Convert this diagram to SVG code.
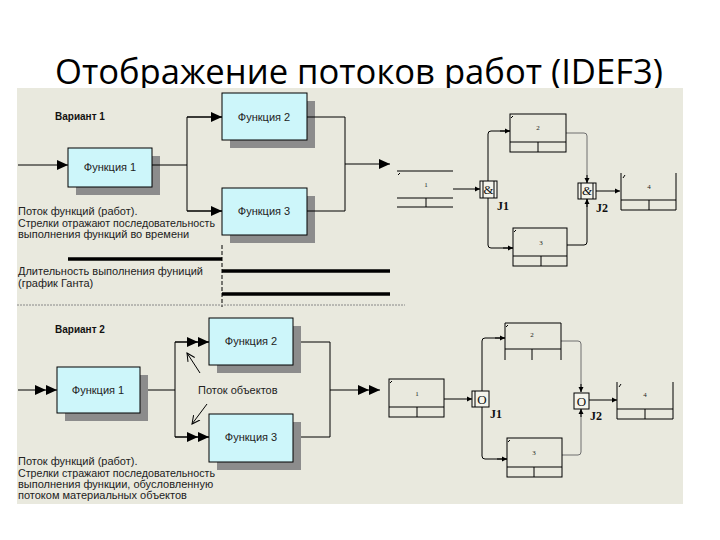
<svg xmlns="http://www.w3.org/2000/svg" width="720" height="540" viewBox="0 0 720 540">
<style>
.title{font-family:"Open Sans","Noto Sans",sans-serif;font-size:35px;fill:#000}
.t{font-family:"Liberation Sans",Arial,sans-serif;font-size:11px;fill:#222}
.b{font-family:"Liberation Sans",Arial,sans-serif;font-size:10px;font-weight:bold;fill:#111}
.fn{font-family:"Liberation Sans",Arial,sans-serif;font-size:11px;fill:#222;text-anchor:middle}
.n{font-family:"Liberation Serif",serif;font-size:7px;fill:#222;text-anchor:middle}
.j{font-family:"Liberation Serif",serif;font-size:12px;font-weight:bold;fill:#111}
.jt{font-family:"Liberation Serif",serif;font-size:13px;fill:#111;text-anchor:middle}
.box{fill:#cdf6fa;stroke:#000;stroke-width:1}
.sh{fill:#8c8c8c}
.ln{fill:none;stroke:#000;stroke-width:1}
.gl{fill:none;stroke:#6f6f6f;stroke-width:1}
.gantt{stroke:#000;stroke-width:3.5}
.ib{fill:#f4f4ec;stroke:#000;stroke-width:1}
</style>
<defs>
<marker id="a" markerWidth="12" markerHeight="10" refX="11" refY="5" orient="auto" markerUnits="userSpaceOnUse"><path d="M0,0 L11,5 L0,10 Z" fill="#000"/></marker>
<marker id="d" markerWidth="24" markerHeight="10" refX="22" refY="5" orient="auto" markerUnits="userSpaceOnUse"><path d="M0,0 L11,5 L0,10 Z M11,0 L22,5 L11,10 Z" fill="#000"/></marker>
<marker id="s" markerWidth="6" markerHeight="6" refX="5" refY="3" orient="auto" markerUnits="userSpaceOnUse"><path d="M0,0.5 L5,3 L0,5.5 Z" fill="#000"/></marker>
<marker id="o" markerWidth="10" markerHeight="10" refX="8" refY="5" orient="auto" markerUnits="userSpaceOnUse"><path d="M0,1 L8,5 L0,9" fill="none" stroke="#000" stroke-width="1"/></marker>
</defs>
<rect width="720" height="540" fill="#fff"/>
<text class="title" x="359" y="84" text-anchor="middle" textLength="608" lengthAdjust="spacingAndGlyphs">Отображение потоков работ (IDEF3)</text>
<rect x="17" y="88" width="666" height="416" fill="#e9e9de"/>

<g id="variant1">
<text class="b" x="55" y="120">Вариант 1</text>
</g>
<g id="v1-f1"><rect class="sh" x="76" y="156" width="84" height="39"/><rect class="box" x="68" y="148" width="84" height="39"/><text class="fn" x="110" y="171">Функция 1</text></g>
<g id="v1-f2"><rect class="sh" x="230" y="101" width="85" height="47"/><rect class="box" x="222" y="93" width="85" height="47"/><text class="fn" x="264" y="121">Функция 2</text></g>
<g id="v1-f3"><rect class="sh" x="230" y="196" width="85" height="47"/><rect class="box" x="222" y="188" width="85" height="47"/><text class="fn" x="264" y="215">Функция 3</text></g>
<g id="v1-note">
<text class="t" x="18" y="215">Поток функций (работ).</text>
<text class="t" x="18" y="227" textLength="197" lengthAdjust="spacingAndGlyphs">Стрелки отражают последовательность</text>
<text class="t" x="18" y="238">выполнения функций во времени</text>
</g>
<g id="gantt">
<text class="t" x="18" y="275">Длительность выполнения фуниций</text>
<text class="t" x="18" y="287">(график Ганта)</text>
<line class="gantt" x1="68" y1="259" x2="222" y2="259"/>
<line class="gantt" x1="222" y1="271" x2="390" y2="271"/>
<line class="gantt" x1="222" y1="294" x2="390" y2="294"/>
<line x1="222" y1="245" x2="222" y2="307" stroke="#000" stroke-width="1" stroke-dasharray="4,2"/>
<line x1="17" y1="305" x2="405" y2="305" stroke="#888" stroke-width="1" stroke-dasharray="2,1"/>
</g>

<g id="connectors">
<line class="ln" x1="18" y1="165" x2="68" y2="165" marker-end="url(#a)"/>
<polyline class="ln" points="152,165 187,165"/>
<polyline class="ln" points="222,117 187,117 187,211 222,211"/>
<line class="ln" x1="187" y1="117" x2="222" y2="117" marker-end="url(#a)"/>
<line class="ln" x1="187" y1="211" x2="222" y2="211" marker-end="url(#a)"/>
<polyline class="ln" points="307,117 345,117 345,211 307,211"/>
<line class="ln" x1="345" y1="164" x2="390" y2="164" marker-end="url(#a)"/>

<line class="ln" x1="18" y1="390" x2="57" y2="390" marker-end="url(#d)"/>
<polyline class="ln" points="140,390 175,390"/>
<polyline class="ln" points="209,342 175,342 175,437 209,437"/>
<line class="ln" x1="175" y1="342" x2="209" y2="342" marker-end="url(#d)"/>
<line class="ln" x1="175" y1="437" x2="209" y2="437" marker-end="url(#d)"/>
<polyline class="ln" points="293,342 330,342 330,437 293,437"/>
<line class="ln" x1="330" y1="390" x2="380" y2="390" marker-end="url(#d)"/>
<line class="ln" x1="200" y1="373" x2="187" y2="353" marker-end="url(#o)"/>
<line class="ln" x1="207" y1="404" x2="192" y2="424" marker-end="url(#o)"/>

<!-- IDEF3 top -->
<line class="ln" x1="453" y1="189" x2="480" y2="189" marker-end="url(#s)"/>
<path class="ln" d="M510,131 L491,131 Q488,131 488,134 L488,245 Q488,248 491,248 L513,248"/>
<line class="ln" x1="500" y1="131" x2="510" y2="131" marker-end="url(#s)"/>
<line class="ln" x1="503" y1="248" x2="513" y2="248" marker-end="url(#s)"/>
<path class="gl" d="M566,133 L584,133 Q587,133 587,136 L587,183"/>
<line class="ln" x1="587" y1="175" x2="587" y2="183" marker-end="url(#s)"/>
<path class="ln" d="M567,245 L584,245 Q587,245 587,242 L587,199"/>
<line class="ln" x1="587" y1="207" x2="587" y2="199" marker-end="url(#s)"/>
<line class="ln" x1="596" y1="191" x2="620" y2="191" marker-end="url(#s)"/>

<!-- IDEF3 bottom -->
<line class="ln" x1="444" y1="399" x2="472" y2="399" marker-end="url(#s)"/>
<path class="ln" d="M505,338 L485,338 Q482,338 482,341 L482,456 Q482,459 485,459 L507,459"/>
<line class="ln" x1="495" y1="338" x2="505" y2="338" marker-end="url(#s)"/>
<line class="ln" x1="497" y1="459" x2="507" y2="459" marker-end="url(#s)"/>
<path class="gl" d="M561,341 L578,341 Q581,341 581,344 L581,392"/>
<line class="ln" x1="581" y1="384" x2="581" y2="392" marker-end="url(#s)"/>
<path class="gl" d="M562,455 L578,455 Q581,455 581,452 L581,409"/>
<line class="ln" x1="581" y1="417" x2="581" y2="409" marker-end="url(#s)"/>
<line class="ln" x1="589" y1="400" x2="617" y2="400" marker-end="url(#s)"/>
</g>

<g id="variant2"><text class="b" x="55" y="333">Вариант 2</text></g>
<g id="v2-f1"><rect class="sh" x="65" y="375" width="83" height="46"/><rect class="box" x="57" y="367" width="83" height="46"/><text class="fn" x="98" y="394">Функция 1</text></g>
<g id="v2-f2"><rect class="sh" x="217" y="326" width="84" height="47"/><rect class="box" x="209" y="318" width="84" height="47"/><text class="fn" x="251" y="345">Функция 2</text></g>
<g id="v2-f3"><rect class="sh" x="217" y="422" width="84" height="48"/><rect class="box" x="209" y="414" width="84" height="48"/><text class="fn" x="251" y="441">Функция 3</text></g>
<g id="v2-objflow"><text class="t" x="198" y="394">Поток объектов</text></g>
<g id="v2-note">
<text class="t" x="18" y="465">Поток функций (работ).</text>
<text class="t" x="18" y="477" textLength="197" lengthAdjust="spacingAndGlyphs">Стрелки стражают последовательность</text>
<text class="t" x="18" y="488">выполнения функции, обусловленную</text>
<text class="t" x="18" y="499">потоком материальных объектов</text>
</g>

<!-- IDEF3 top nodes -->
<g id="t-u1">
<line class="ln" x1="397" y1="171" x2="453" y2="171"/>
<line class="ln" x1="397" y1="198" x2="453" y2="198"/>
<line class="ln" x1="397" y1="207" x2="453" y2="207"/>
<line class="ln" x1="426" y1="198" x2="426" y2="207"/>
<line class="ln" x1="398" y1="175" x2="400" y2="173"/>
<text class="n" x="426" y="187">1</text>
</g>
<g id="t-j1"><rect class="ib" x="480" y="181" width="17" height="17"/><line class="ln" x1="483" y1="181" x2="483" y2="198"/><line class="ln" x1="494" y1="181" x2="494" y2="198"/><text class="jt" x="488.5" y="194" font-size="11">&amp;</text><text class="j" x="497" y="210">J1</text></g>
<g id="t-u2"><rect class="ln" x="510" y="114" width="56" height="38"/><line class="ln" x1="510" y1="142" x2="566" y2="142"/><line class="ln" x1="538" y1="142" x2="538" y2="152"/><line class="ln" x1="511" y1="118" x2="513" y2="116"/><text class="n" x="538" y="130">2</text></g>
<g id="t-u3"><rect class="ln" x="513" y="228" width="54" height="38"/><line class="ln" x1="513" y1="256" x2="567" y2="256"/><line class="ln" x1="541" y1="256" x2="541" y2="266" stroke="#777"/><line class="ln" x1="514" y1="232" x2="516" y2="230"/><text class="n" x="541" y="245">3</text></g>
<g id="t-j2"><rect class="ib" x="578" y="183" width="18" height="16"/><line class="ln" x1="581" y1="183" x2="581" y2="199"/><line class="ln" x1="593" y1="183" x2="593" y2="199"/><text class="jt" x="587" y="195" font-size="11" font-style="italic">&amp;</text><text class="j" x="596" y="212">J2</text></g>
<g id="t-u4"><polyline class="ln" points="621,173 621,210 676,210 676,173"/><line class="ln" x1="621" y1="200" x2="676" y2="200"/><line class="ln" x1="649" y1="200" x2="649" y2="210"/><line class="ln" x1="623" y1="178" x2="625" y2="175"/><text class="n" x="649" y="189">4</text></g>

<!-- IDEF3 bottom nodes -->
<g id="b-u1"><rect class="ln" x="389" y="379" width="55" height="38"/><line class="ln" x1="389" y1="407" x2="444" y2="407"/><line class="ln" x1="417" y1="407" x2="417" y2="417"/><line class="ln" x1="390" y1="383" x2="392" y2="381"/><text class="n" x="417" y="396">1</text></g>
<g id="b-j1"><rect class="ib" x="472" y="391" width="17" height="16"/><line class="ln" x1="475" y1="391" x2="475" y2="407"/><text class="jt" x="482" y="404">O</text><text class="j" x="490" y="418">J1</text></g>
<g id="b-u2"><polyline class="ln" points="505,360 505,323 561,323 561,360"/><line class="ln" x1="505" y1="349" x2="561" y2="349"/><line class="ln" x1="532" y1="349" x2="532" y2="360"/><line class="ln" x1="506" y1="327" x2="508" y2="325"/><text class="n" x="532" y="337">2</text></g>
<g id="b-u3"><rect class="ln" x="507" y="438" width="55" height="39"/><line class="ln" x1="507" y1="467" x2="562" y2="467"/><line class="ln" x1="534" y1="467" x2="534" y2="477"/><line class="ln" x1="508" y1="442" x2="510" y2="440"/><text class="n" x="534" y="455">3</text></g>
<g id="b-j2"><rect class="ib" x="574" y="393" width="15" height="16"/><text class="jt" x="581.5" y="406">O</text><text class="j" x="590" y="420">J2</text></g>
<g id="b-u4"><polyline class="ln" points="617,382 617,419 673,419 673,382"/><line class="ln" x1="617" y1="409" x2="673" y2="409"/><line class="ln" x1="645" y1="409" x2="645" y2="419"/><line class="ln" x1="619" y1="387" x2="621" y2="384"/><text class="n" x="645" y="397">4</text></g>
</svg>
